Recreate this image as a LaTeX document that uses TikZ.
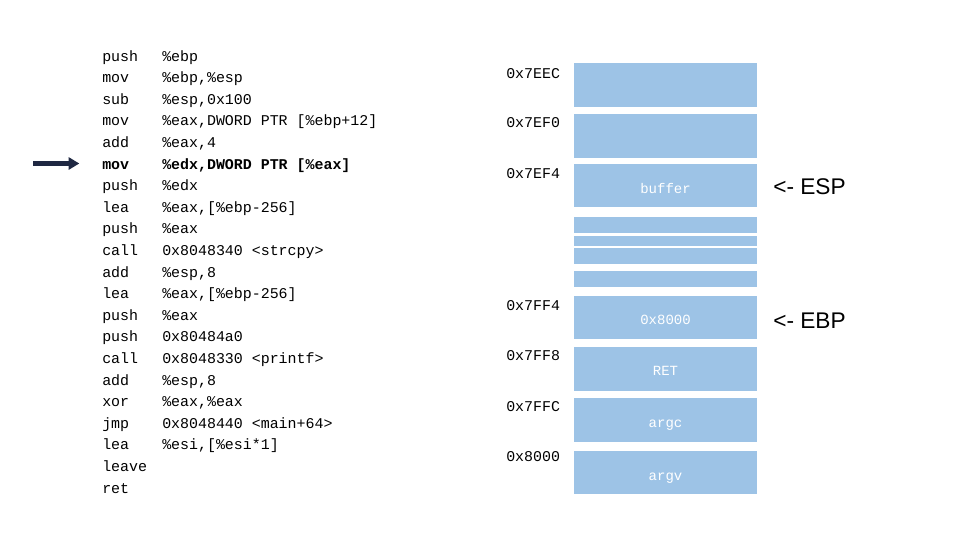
\documentclass[tikz,border=0pt]{standalone}
\usepackage{fontspec}
\setmainfont{Liberation Sans}
\setmonofont{Liberation Mono}
\usetikzlibrary{arrows.meta}
\definecolor{stackblue}{RGB}{157,195,230}
\definecolor{navy}{RGB}{31,40,66}

\begin{document}
\begin{tikzpicture}[x=0.75pt, y=-0.75pt, >={Triangle[length=8pt,width=9pt]},
    asm/.style={anchor=base west, inner sep=0pt, font=\ttfamily\fontsize{11.2}{13}\selectfont},
    slotlbl/.style={anchor=base, inner sep=0pt, text=white, font=\ttfamily\fontsize{10.5}{13}\selectfont},
    reg/.style={anchor=base west, inner sep=0pt, font=\fontsize{17}{20}\selectfont}]
    \useasboundingbox (0,0) rectangle (960,540);
    % disassembly
    \foreach \op/\arg [count=\i] in {push/\%ebp, mov/{\%ebp,\%esp}, sub/{\%esp,0x100},
        mov/{\%eax,DWORD PTR [\%ebp+12]}, add/{\%eax,4},
        {\bfseries mov}/{\bfseries \%edx,DWORD PTR [\%eax]}, push/\%edx,
        lea/{\%eax,[\%ebp-256]}, push/\%eax, call/{0x8048340 <strcpy>}, add/{\%esp,8},
        lea/{\%eax,[\%ebp-256]}, push/\%eax, push/0x80484a0, call/{0x8048330 <printf>},
        add/{\%esp,8}, xor/{\%eax,\%eax}, jmp/{0x8048440 <main+64>}, lea/{\%esi,[\%esi*1]},
        leave/{}, ret/{}}
    {
        \node[asm] (op\i) at (102, 39.4 + 21.6*\i) {\op};
        \node[asm] (arg\i) at (162, 39.4 + 21.6*\i) {\arg};
    }
    \coordinate (ptr) at (33, 163.5);
    \draw[navy, line width=3.5pt, ->, shorten >=17pt] (ptr) -- (ptr -| op6.west);
    % stack
    \foreach \top/\bot in {62.7/106.7, 114/157.7, 164/207.3, 216.7/232.7, 236/246.2,
        247.6/264.3, 271/286.7, 296/339.3, 346.7/390.7, 397.7/441.7, 451/494.3}
        \fill[stackblue] (574,\top) rectangle (757,\bot);
    \node[asm] (a7eec) at (506, 78) {0x7EEC};
    \node[asm] (a7ef0) at (506, 127) {0x7EF0};
    \node[asm] (a7ef4) at (506, 178) {0x7EF4};
    \node[asm] (a7ff4) at (506, 310.5) {0x7FF4};
    \node[asm] (a7ff8) at (506, 360.5) {0x7FF8};
    \node[asm] (a7ffc) at (506, 411.5) {0x7FFC};
    \node[asm] (a8000) at (506, 461.5) {0x8000};
    \node[slotlbl] (buf) at (665.5, 193) {buffer};
    \node[slotlbl] (sfp) at (665.5, 324.5) {0x8000};
    \node[slotlbl] (ret) at (665.5, 375) {RET};
    \node[slotlbl] (argc) at (665.5, 427) {argc};
    \node[slotlbl] (argv) at (665.5, 480) {argv};
    \node[reg] (esp) at (773, 194) {<- ESP};
    \node[reg] (ebp) at (773, 328) {<- EBP};
\end{tikzpicture}
\end{document}
